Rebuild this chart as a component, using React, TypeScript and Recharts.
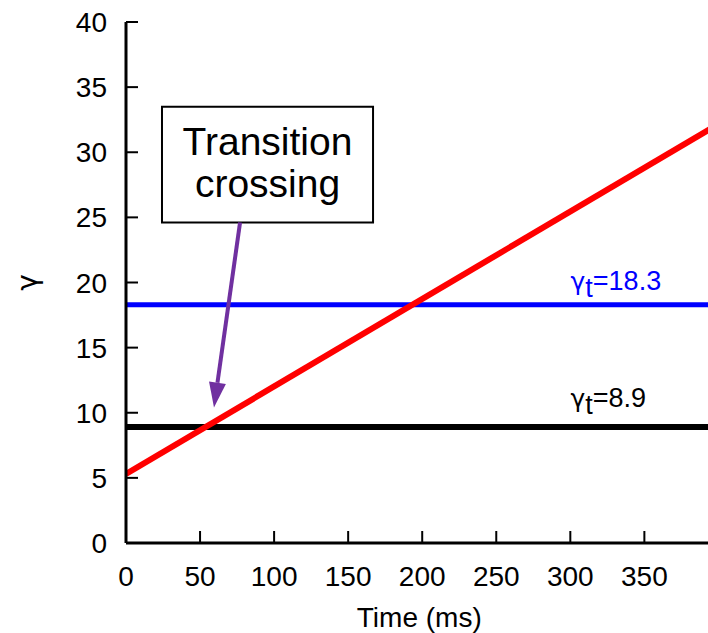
import React from 'react';
import { LineChart, Line, XAxis, YAxis, ReferenceLine, ReferenceArea } from 'recharts';

// gamma ramp vs time, with the two transition gammas
const timeMs = [0, 396];
const gammaRamp = [5.3, 31.9];
const xTicks = [0, 50, 100, 150, 200, 250, 300, 350];
const yTicks = [0, 5, 10, 15, 20, 25, 30, 35, 40];
const gammaT = [18.3, 8.9];
const gammaTColors = ['#0000ff', '#000000'];
const calloutText = ['Transition', 'crossing'];
// callout box + arrow, in data units (ms, gamma)
const calloutBox = { x1: 24.3, x2: 166.8, y1: 24.6, y2: 33.5 };
const arrowFrom = { x: 77, y: 24.6 };
const arrowTo = { x: 59.4, y: 10.4 };

const rampData = timeMs.map((t, i) => ({ t, gamma: gammaRamp[i] }));

const FONT = '"Liberation Sans", Arial, Helvetica, sans-serif';
const GREEK = '"DejaVu Sans", sans-serif';
const W = 730;
const H = 633;
const TICK_LEN = 12;
const X_MARGIN = 22;
const Y_MARGIN = 19;

// gnuplot-style ticks: the mark points into the plot
const BottomTick = (props: any) => {
  const { x, y, payload } = props;
  const axisY = y - X_MARGIN;
  return (
    <g>
      <line x1={x} x2={x} y1={axisY} y2={axisY - TICK_LEN} stroke="#000" strokeWidth={2} />
      <text x={x} y={y} dy={21} textAnchor="middle" fontSize={28} fontFamily={FONT} fill="#000">
        {payload.value}
      </text>
    </g>
  );
};

const LeftTick = (props: any) => {
  const { x, y, payload } = props;
  const axisX = x + Y_MARGIN;
  return (
    <g>
      <line x1={axisX} x2={axisX + TICK_LEN} y1={y} y2={y} stroke="#000" strokeWidth={2} />
      <text x={x} y={y} dy={10} textAnchor="end" fontSize={28} fontFamily={FONT} fill="#000">
        {payload.value}
      </text>
    </g>
  );
};

const TopTick = (props: any) => {
  const { x, y } = props;
  return <line x1={x} x2={x} y1={y} y2={y + TICK_LEN} stroke="#000" strokeWidth={2} />;
};

const RightTick = (props: any) => {
  const { x, y } = props;
  return <line x1={x} x2={x - TICK_LEN} y1={y} y2={y} stroke="#000" strokeWidth={2} />;
};

const XTitle = (props: any) => {
  const vb = props.viewBox || {};
  return (
    <text x={vb.x + vb.width / 2} y={vb.y + 84} textAnchor="middle" fontSize={28} fontFamily={FONT} fill="#000">
      Time (ms)
    </text>
  );
};

const YTitle = (props: any) => {
  const vb = props.viewBox || {};
  const cx = 27;
  const cy = vb.y + vb.height / 2;
  return (
    <text x={cx} y={cy} transform={`rotate(-90 ${cx} ${cy})`} textAnchor="middle" dominantBaseline="central" fontSize={28} fontFamily={GREEK} fill="#000">
      γ
    </text>
  );
};

const gammaLabel = (value: number, color: string, rise: number) => (props: any) => {
  const vb = props.viewBox || {};
  return (
    <text x={vb.x + vb.width - 142} y={vb.y - rise} fontSize={27} fontFamily={FONT} fill={color}>
      <tspan fontFamily={GREEK} fontSize={25}>γ</tspan>
      <tspan dy={7}>t</tspan>
      <tspan dy={-7}>={value}</tspan>
    </text>
  );
};

const CalloutLabel = (props: any) => {
  const vb = props.viewBox || {};
  const cx = vb.x + vb.width / 2;
  return (
    <text x={cx} textAnchor="middle" fontSize={39} fontFamily={FONT} fill="#000">
      <tspan x={cx} y={vb.y + 48}>{calloutText[0]}</tspan>
      <tspan x={cx} y={vb.y + 90}>{calloutText[1]}</tspan>
    </text>
  );
};

const Arrow = (props: any) => {
  const { x1, y1, x2, y2 } = props;
  const dx = x2 - x1;
  const dy = y2 - y1;
  const len = Math.sqrt(dx * dx + dy * dy) || 1;
  const ux = dx / len;
  const uy = dy / len;
  const headLen = 25;
  const half = 8.5;
  const bx = x2 - ux * headLen;
  const by = y2 - uy * headLen;
  const pts = `${x2},${y2} ${bx - uy * half},${by + ux * half} ${bx + uy * half},${by - ux * half}`;
  return (
    <g>
      <line x1={x1} y1={y1} x2={bx} y2={by} stroke="#7030a0" strokeWidth={4} />
      <polygon points={pts} fill="#7030a0" />
    </g>
  );
};

export default function App() {
  return (
    <div style={{ position: 'absolute', left: 0, top: 0, width: 708, height: 633, overflow: 'hidden', background: '#fff' }}>
      <LineChart width={W} height={H} data={rampData} margin={{ top: 22, right: 17.5, bottom: 0, left: 0 }}>
        <XAxis
          xAxisId="bottom"
          dataKey="t"
          type="number"
          domain={[0, 396]}
          ticks={xTicks}
          allowDataOverflow
          height={90}
          tickSize={0}
          tickMargin={X_MARGIN}
          axisLine={{ stroke: '#000', strokeWidth: 3 }}
          tickLine={false}
          tick={BottomTick}
          label={XTitle}
        />
        <XAxis
          xAxisId="top"
          orientation="top"
          dataKey="t"
          type="number"
          domain={[0, 396]}
          ticks={xTicks}
          allowDataOverflow
          height={0}
          tickSize={0}
          tickMargin={0}
          axisLine={{ stroke: '#000', strokeWidth: 3 }}
          tickLine={false}
          tick={TopTick}
        />
        <YAxis
          yAxisId="left"
          type="number"
          domain={[0, 40]}
          ticks={yTicks}
          allowDataOverflow
          width={126}
          tickSize={0}
          tickMargin={Y_MARGIN}
          axisLine={{ stroke: '#000', strokeWidth: 3 }}
          tickLine={false}
          tick={LeftTick}
          label={YTitle}
        />
        <YAxis
          yAxisId="right"
          orientation="right"
          type="number"
          domain={[0, 40]}
          ticks={yTicks}
          allowDataOverflow
          width={0}
          tickSize={0}
          tickMargin={0}
          axisLine={{ stroke: '#000', strokeWidth: 3 }}
          tickLine={false}
          tick={RightTick}
        />
        {gammaT.map((g, i) => (
          <ReferenceLine
            key={g}
            xAxisId="bottom"
            yAxisId="left"
            y={g}
            stroke={gammaTColors[i]}
            strokeWidth={i === 0 ? 5 : 6}
            label={gammaLabel(g, gammaTColors[i], i === 0 ? 15 : 20)}
          />
        ))}
        <Line
          xAxisId="bottom"
          yAxisId="left"
          type="linear"
          dataKey="gamma"
          stroke="#ff0000"
          strokeWidth={6}
          dot={false}
          activeDot={false}
          isAnimationActive={false}
        />
        <ReferenceArea
          xAxisId="bottom"
          yAxisId="left"
          x1={calloutBox.x1}
          x2={calloutBox.x2}
          y1={calloutBox.y1}
          y2={calloutBox.y2}
          fill="#fff"
          fillOpacity={1}
          stroke="#000"
          strokeWidth={2}
          label={CalloutLabel}
        />
        <ReferenceLine
          xAxisId="bottom"
          yAxisId="left"
          segment={[arrowFrom, arrowTo]}
          shape={Arrow}
        />
      </LineChart>
    </div>
  );
}
